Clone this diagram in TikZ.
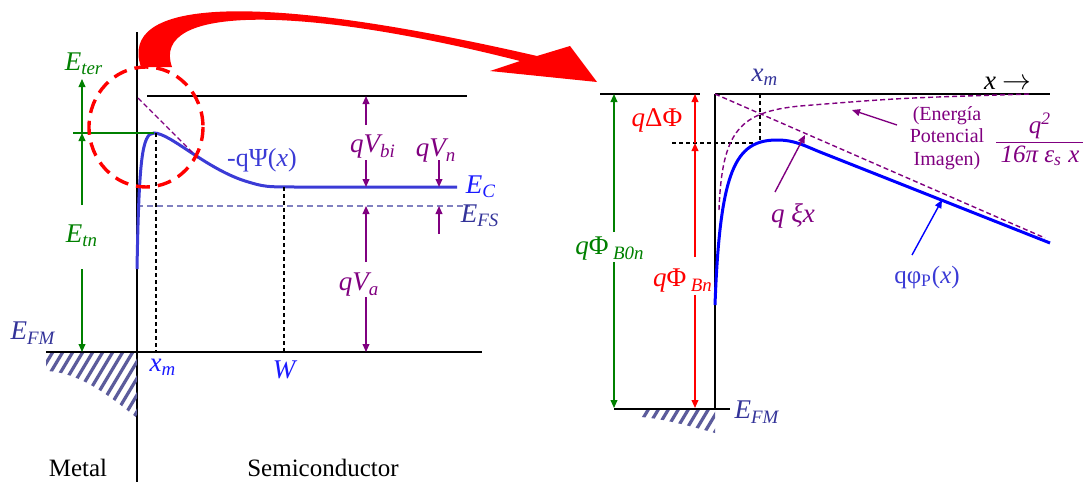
\documentclass[tikz,border=0pt]{standalone}
\usepackage{fontspec}
\setmainfont{Liberation Serif}
\usetikzlibrary{arrows.meta}
\definecolor{grn}{HTML}{008000}
\definecolor{prp}{HTML}{800080}
\definecolor{slate}{HTML}{333399}
\definecolor{psi}{HTML}{3B3BD6}
\definecolor{ecb}{HTML}{1A1AFF}
\definecolor{hatchc}{HTML}{5C5C9C}
\definecolor{fsline}{HTML}{8080C0}

\begin{document}
\begin{tikzpicture}[x=0.5pt, y=-0.5pt,
    lbl/.style={font=\fontsize{13.5}{15}\selectfont\itshape, inner sep=0pt},
    txt/.style={font=\fontsize{12.5}{15}\selectfont, inner sep=0pt},
    tip/.style={-{Triangle[length=4pt,width=3.4pt]}},
    garr/.style={tip, draw=grn, line width=0.7pt},
    parr/.style={tip, draw=prp, line width=0.7pt},
    rarr/.style={tip, draw=red, line width=0.7pt},
    barr/.style={tip, draw=blue, line width=0.7pt},
    band/.style={line width=1pt},
    bdash/.style={dash pattern=on 2pt off 1.5pt, line width=0.75pt},
    pdash/.style={draw=prp, dash pattern=on 2.5pt off 1.5pt, line width=0.7pt},
    hatchln/.style={draw=hatchc, line width=1.6pt}]
  \useasboundingbox (0,0) rectangle (1083,482);

  % ---------- left: band diagram
  \coordinate (ifT) at (137,32);
  \coordinate (ifB) at (137,482);
  \coordinate (vacL) at (147,96);
  \coordinate (vacR) at (467,96);
  \coordinate (fmL) at (46,352);
  \coordinate (fmR) at (482,352);
  \draw[band] (ifT) -- (ifB);
  \draw[band] (vacL) -- (vacR);
  \draw[band] (fmL) -- (fmR);

  % metal fermi sea
  \begin{scope}
    \clip (46,353) -- (137,353) -- (137,418) .. controls (112,398) and (80,372) .. (46,371) -- cycle;
    \foreach \x in {-30,-20,...,140}
      \draw[hatchln] (\x,440) -- ++(60,-100);
  \end{scope}

  % E_FS
  \coordinate (fsL) at (137,206);
  \coordinate (fsR) at (470,206);
  \draw[draw=fsline, dash pattern=on 3pt off 2pt, line width=0.6pt] (fsL) -- (fsR);

  % barrier
  \draw[draw=psi, line width=1.5pt] (137,269) .. controls (139,160) and (142,133) .. (154,133)
    .. controls (170,133) and (205,168) .. (245,181) .. controls (265,187) .. (300,187) -- (457,187);
  \draw[pdash] (138,98) -- (200,160);

  % peak and W markers
  \coordinate (pk) at (154,133);
  \coordinate (xmB) at (156,352);
  \coordinate (wT) at (284,187);
  \coordinate (wB) at (284,352);
  \draw[bdash] (156,133) -- (xmB);
  \draw[bdash] (wT) -- (wB);
  \coordinate (tnL) at (73,133);
  \draw[draw=grn, line width=0.9pt] (tnL) -- (pk);

  % green energies
  \node[lbl, text=grn] (eter) at (84,64) {E\textsubscript{ter}};
  \node[lbl, text=grn] (etn) at (82,236) {E\textsubscript{tn}};
  \coordinate (g0) at (82,133);
  \coordinate (g1) at (82,79);
  \coordinate (g2) at (82,352);
  \coordinate (g3) at (82,205);
  \coordinate (g4) at (82,269);
  \draw[garr] (g0) -- (g1);
  \draw[garr] (g3) -- (g0);
  \draw[garr] (g4) -- (g2);

  % purple energies
  \node[lbl, text=prp] (vbi) at (373,147) {qV\textsubscript{bi}};
  \node[lbl, text=prp] (vn) at (436,151) {qV\textsubscript{n}};
  \node[lbl, text=prp] (va) at (359,285) {qV\textsubscript{a}};
  \coordinate (bi0) at (366,125);
  \coordinate (bi1) at (366,96);
  \coordinate (bi2) at (366,160);
  \coordinate (bi3) at (366,187);
  \draw[parr] (bi0) -- (bi1);
  \draw[parr] (bi2) -- (bi3);
  \coordinate (n0) at (439,160);
  \coordinate (n1) at (439,187);
  \coordinate (n2) at (439,234);
  \coordinate (n3) at (439,206);
  \draw[parr] (n0) -- (n1);
  \draw[parr] (n2) -- (n3);
  \coordinate (a0) at (366,262);
  \coordinate (a1) at (366,206);
  \coordinate (a2) at (366,297);
  \coordinate (a3) at (366,352);
  \draw[parr] (a0) -- (a1);
  \draw[parr] (a2) -- (a3);

  % left labels
  \node[txt, text=psi, font=\fontsize{13}{15}\selectfont] (lpsi) at (262,160) {-qΨ(\textit{x})};
  \node[lbl, text=ecb] (ec) at (481,187) {E\textsubscript{C}};
  \node[lbl, text=slate] (efs) at (480,216) {E\textsubscript{FS}};
  \node[lbl, text=slate] (efm) at (33,333) {E\textsubscript{FM}};
  \node[lbl, text=ecb] (xm) at (163,367) {x\textsubscript{m}};
  \node[lbl, text=ecb] (w) at (284,370) {W};
  \node[txt] (metal) at (78,468) {Metal};
  \node[txt] (semi) at (323,468) {Semiconductor};

  % zoom circle and big arrow
  \draw[red, line width=1.7pt, dash pattern=on 7pt off 4pt] (146,127) ellipse [x radius=57, y radius=60];
  \fill[red] (141,67) .. controls (118,0) and (250,-10) .. (537,56) -- (570,46) -- (597,82)
    -- (490,71) -- (520,61) .. controls (300,5) and (150,5) .. (172,67) -- cycle;

  % ---------- right: detail
  \coordinate (rvL) at (600,94);
  \coordinate (rvM) at (700,94);
  \coordinate (rvS) at (715,94);
  \coordinate (rvR) at (1050,94);
  \coordinate (rfL) at (614,409);
  \coordinate (rfR) at (730,409);
  \coordinate (rwB) at (715,409);
  \draw[band] (rvL) -- (rvM);
  \draw[band] (rvS) -- (rvR);
  \draw[band] (rvS) -- (rwB);
  \draw[band] (rfL) -- (rfR);
  \begin{scope}
    \clip (640,410) -- (715,410) -- (715,433) .. controls (690,426) and (660,418) .. (640,417) -- cycle;
    \foreach \x in {590,600,...,720}
      \draw[hatchln] (\x,440) -- ++(60,-100);
  \end{scope}

  % x_m markers
  \coordinate (mx) at (760,143);
  \coordinate (mxL) at (672,143);
  \draw[bdash] (mxL) -- (mx);
  \draw[bdash] (760,94) -- (mx);

  % field line, image force, total
  \coordinate (fe) at (1045,238);
  \draw[pdash] (rvS) -- (fe);
  \draw[pdash] (719,210) .. controls (722,130) and (740,112) .. (800,106) .. controls (900,98) .. (1030,94);
  \draw[draw=blue, line width=1.5pt] (715,305) .. controls (720,170) and (735,140) .. (777,140)
    .. controls (795,140) and (805,146) .. (820,152) -- (1050,243);

  % barrier heights
  \node[lbl, text=grn] (b0n) at (610,249) {\upshape\textit{q}Φ\,\textsubscript{\textit{B0n}}};
  \coordinate (h0) at (614,232);
  \coordinate (h1) at (614,94);
  \coordinate (h2) at (614,262);
  \coordinate (h3) at (614,408);
  \draw[garr] (h0) -- (h1);
  \draw[garr] (h2) -- (h3);
  \node[lbl, text=red] (dphi) at (657,120) {q\upshape ΔΦ};
  \node[lbl, text=red] (bn) at (683,281) {\upshape\textit{q}Φ\,\textsubscript{\textit{Bn}}};
  \coordinate (r0) at (695,94);
  \coordinate (r1) at (695,143);
  \coordinate (r2) at (695,257);
  \coordinate (r3) at (695,295);
  \coordinate (r4) at (695,408);
  \draw[rarr, {Triangle[length=4pt,width=3.4pt]}-] (r0) -- (r1);
  \draw[rarr] (r2) -- (r1);
  \draw[rarr] (r3) -- (r4);

  % right labels
  \node[lbl, text=slate] (xmr) at (765,77) {x\textsubscript{m}};
  \node[lbl, text=black] (xax) at (1008,83) {x $\rightarrow$};
  \node[lbl, text=slate] (efmr) at (757,412) {E\textsubscript{FM}};
  \node[lbl, text=prp] (xi) at (793,216) {q ξx};
  \coordinate (xi0) at (775,192);
  \coordinate (xi1) at (805,135);
  \draw[parr] (xi0) -- (xi1);
  \node[txt, text=prp, align=center, font=\fontsize{10}{11.2}\selectfont] (img) at (947,138) {(Energía\\Potencial\\Imagen)};
  \coordinate (im0) at (897,125);
  \coordinate (im1) at (852,110);
  \draw[parr] (im0) -- (im1);
  \node[lbl, text=prp, font=\fontsize{12.5}{14}\selectfont\itshape] (frac) at (1040,142)
    {\begin{tabular}{@{\,}c@{\,}}q\textsuperscript{2}\\\hline 16π ε\textsubscript{s} x\end{tabular}};
  \node[txt, text=psi, font=\fontsize{12.5}{14}\selectfont] (phip) at (927,277) {qφ\textsubscript{P}(\textit{x})};
  \coordinate (ph0) at (912,255);
  \coordinate (ph1) at (942,200);
  \draw[barr] (ph0) -- (ph1);
\end{tikzpicture}
\end{document}
